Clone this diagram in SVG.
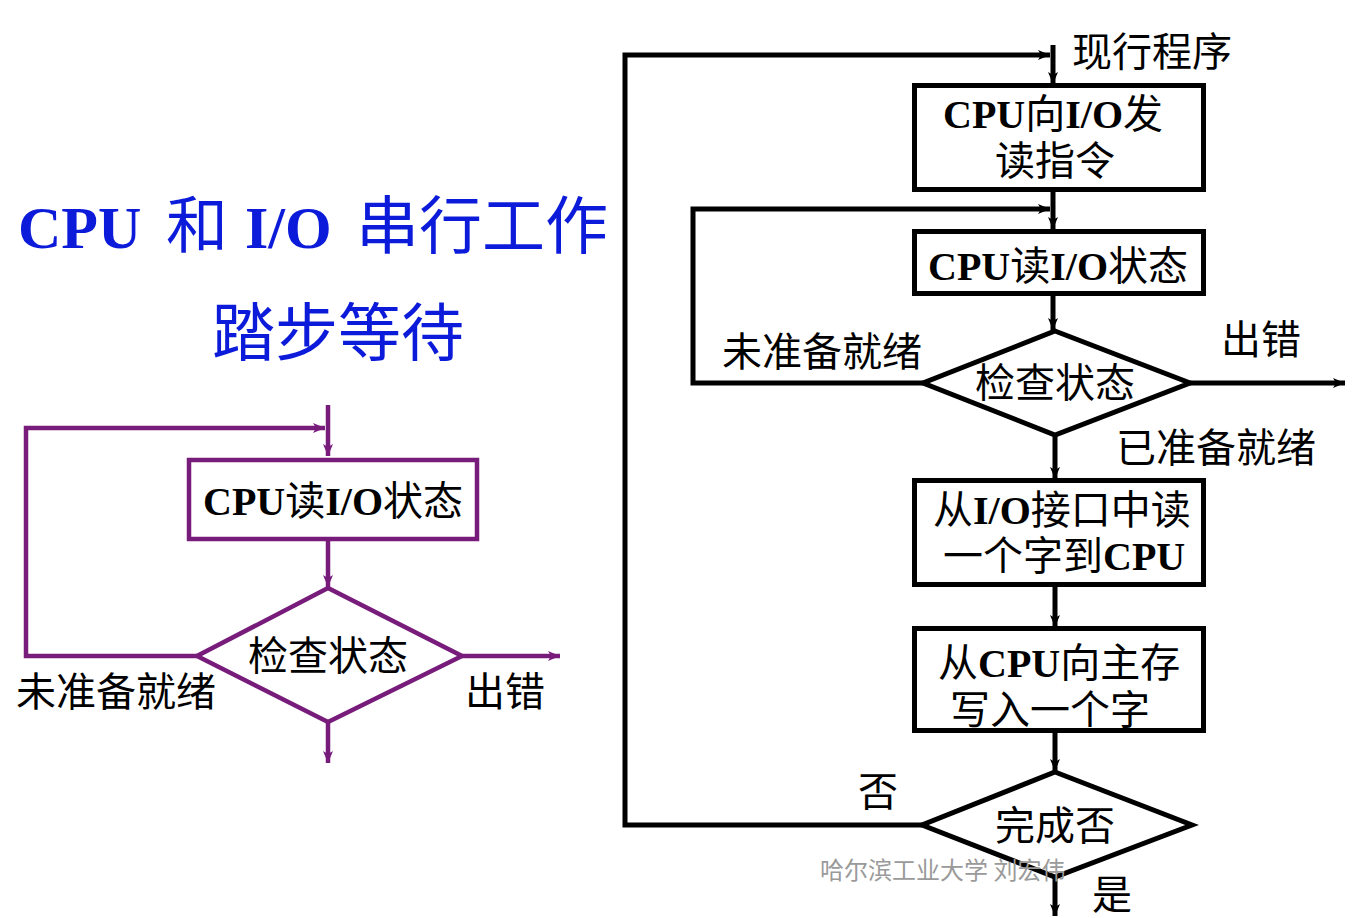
<svg xmlns="http://www.w3.org/2000/svg" width="1352" height="918" viewBox="0 0 1352 918">
<style>
.t{font-family:"Noto Sans CJK SC","Liberation Serif",sans-serif;font-size:40px;fill:#000}
.b{font-family:"Liberation Serif","Noto Sans CJK SC",serif;font-weight:bold}
.title{font-family:"Noto Sans CJK SC","Liberation Serif",sans-serif;fill:#0B1BD9}
.k{fill:none;stroke:#000;stroke-width:5}
.p{fill:none;stroke:#781C7C;stroke-width:4.5}
.node{fill:#fff}
.wm{font-family:"Noto Sans CJK SC",sans-serif;font-size:24px;fill:#9a9a9a}
</style>
<defs>
<marker id="ak" markerUnits="userSpaceOnUse" markerWidth="14" markerHeight="12" refX="12" refY="6" orient="auto"><path d="M0,1 L12,6 L0,11 L3,6 z" fill="#000"/></marker>
<marker id="ap" markerUnits="userSpaceOnUse" markerWidth="14" markerHeight="12" refX="12" refY="6" orient="auto"><path d="M0,1 L12,6 L0,11 L3,6 z" fill="#781C7C"/></marker>
</defs>
<rect width="1352" height="918" fill="#fff"/>

<g id="title">
<text class="title" y="248" font-size="60"><tspan class="b" x="18">CPU</tspan><tspan x="166" font-size="62">和</tspan><tspan class="b" x="245">I/O</tspan><tspan x="356" font-size="63">串行工作</tspan></text>
<text class="title" x="212" y="355" font-size="63">踏步等待</text>
</g>

<g id="connectors">
<path class="k" d="M922,825 H625 V55 H1050" marker-end="url(#ak)"/>
<path class="k" d="M1053,45 V84" marker-end="url(#ak)"/>
<path class="k" d="M1053,192 V229" marker-end="url(#ak)"/>
<path class="k" d="M923,383 H693 V209 H1050" marker-end="url(#ak)"/>
<path class="k" d="M1053,296 V330" marker-end="url(#ak)"/>
<path class="k" d="M1190,383 H1345" marker-end="url(#ak)"/>
<path class="k" d="M1055,435 V479" marker-end="url(#ak)"/>
<path class="k" d="M1055,586 V627" marker-end="url(#ak)"/>
<path class="k" d="M1055,733 V771" marker-end="url(#ak)"/>
<path class="k" d="M1055,876 V916" marker-end="url(#ak)"/>
<path class="p" d="M328,405 V456" marker-end="url(#ap)"/>
<path class="p" d="M197,656 H26 V428 H325" marker-end="url(#ap)"/>
<path class="p" d="M328,541 V587" marker-end="url(#ap)"/>
<path class="p" d="M462,656 H560" marker-end="url(#ap)"/>
<path class="p" d="M328,722 V763" marker-end="url(#ap)"/>
</g>

<g id="edge-labels">
<text class="t" x="1072" y="66">现行程序</text>
<text class="t" x="722" y="366">未准备就绪</text>
<text class="t" x="1221" y="354">出错</text>
<text class="t" x="1116" y="462">已准备就绪</text>
<text class="t" x="858" y="806">否</text>
<text class="t" x="1092" y="909">是</text>
<text class="t" x="16" y="706">未准备就绪</text>
<text class="t" x="465" y="706">出错</text>
</g>

<g id="box1">
<rect class="k node" x="914.5" y="85.5" width="289" height="104"/>
<text class="t" y="128"><tspan class="b" x="943">CPU</tspan>向<tspan class="b">I/O</tspan>发</text>
<text class="t" x="995" y="175">读指令</text>
</g>

<g id="box2">
<rect class="k node" x="914.5" y="231.5" width="289" height="62"/>
<text class="t" y="280"><tspan class="b" x="928">CPU</tspan>读<tspan class="b">I/O</tspan>状态</text>
</g>

<g id="check1">
<polygon class="k node" points="1055,331 1190,383 1055,435 923,383"/>
<text class="t" x="975" y="397">检查状态</text>
</g>

<g id="box3">
<rect class="k node" x="914.5" y="480.5" width="289" height="104"/>
<text class="t" y="524"><tspan x="933">从</tspan><tspan class="b">I/O</tspan>接口中读</text>
<text class="t" y="570"><tspan x="943">一个字到</tspan><tspan class="b">CPU</tspan></text>
</g>

<g id="box4">
<rect class="k node" x="914.5" y="628.5" width="289" height="102"/>
<text class="t" y="677"><tspan x="938">从</tspan><tspan class="b">CPU</tspan>向主存</text>
<text class="t" x="950" y="724">写入一个字</text>
</g>

<g id="check2">
<polygon class="k node" points="1055,772 1192,825 1055,877 922,825"/>
<text class="t" x="995" y="840">完成否</text>
</g>

<g id="lbox">
<rect class="p node" x="189" y="460" width="288" height="79"/>
<text class="t" y="515"><tspan class="b" x="203">CPU</tspan>读<tspan class="b">I/O</tspan>状态</text>
</g>

<g id="lcheck">
<polygon class="p node" points="328,588 462,656 328,722 197,656"/>
<text class="t" x="248" y="670">检查状态</text>
</g>

<g id="watermark">
<text class="wm" x="820" y="879">哈尔滨工业大学  刘宏伟</text>
</g>
</svg>
